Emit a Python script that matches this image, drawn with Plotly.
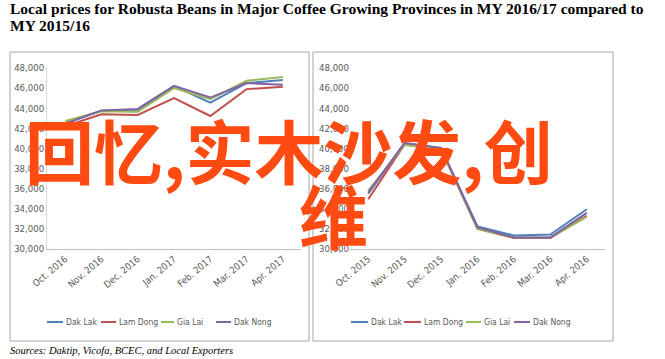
import plotly.graph_objects as go

months_1617 = ["Oct. 2016", "Nov. 2016", "Dec. 2016", "Jan. 2017", "Feb. 2017", "Mar. 2017", "Apr. 2017"]
months_1516 = ["Oct. 2015", "Nov. 2015", "Dec. 2015", "Jan. 2016", "Feb. 2016", "Mar. 2016", "Apr. 2016"]

provinces = ["Dak Lak", "Lam Dong", "Gia Lai", "Dak Nong"]
colors = ["#4F81BD", "#C0504D", "#9BBB59", "#8064A2"]

dak_lak_1617 = [42500, 43750, 43700, 46200, 44550, 46500, 46800]
lam_dong_1617 = [42200, 43400, 43330, 45000, 43230, 45900, 46130]
gia_lai_1617 = [42730, 43700, 43650, 46000, 44900, 46730, 47100]
dak_nong_1617 = [42450, 43780, 43930, 46230, 45060, 46500, 46330]

dak_lak_1516 = [35500, 40500, 40000, 32250, 31350, 31430, 33950]
lam_dong_1516 = [34950, 40400, 39900, 32000, 31100, 31100, 33300]
gia_lai_1516 = [35800, 40350, 39950, 32000, 31150, 31150, 33200]
dak_nong_1516 = [35600, 40550, 40050, 32150, 31150, 31150, 33600]

y_ticks = list(range(30000, 48001, 2000))
y_tick_labels = [f"{v:,}" for v in y_ticks]

series_1617 = [dak_lak_1617, lam_dong_1617, gia_lai_1617, dak_nong_1617]
series_1516 = [dak_lak_1516, lam_dong_1516, gia_lai_1516, dak_nong_1516]

W, H = 665, 359
def px(x):
    return x / W
def py(y):
    return 1 - y / H

fig = go.Figure()
for name, col, vals in zip(provinces, colors, series_1617):
    fig.add_trace(go.Scatter(x=months_1617, y=vals, name=name, mode="lines",
                             line=dict(color=col, width=2), xaxis="x", yaxis="y",
                             showlegend=False))
for name, col, vals in zip(provinces, colors, series_1516):
    fig.add_trace(go.Scatter(x=months_1516, y=vals, name=name, mode="lines",
                             line=dict(color=col, width=2), xaxis="x2", yaxis="y2",
                             showlegend=False))

narrow = "Liberation Sans Narrow, Arial Narrow, DejaVu Sans Condensed, sans-serif"
tick_font = dict(family=narrow, size=9.5, color="#595959")

common_x = dict(tickangle=-40, tickfont=tick_font, showgrid=False, zeroline=False,
                showline=True, linecolor="#BFBFBF", linewidth=1, ticks="",
                range=[-0.5, 6.5], fixedrange=True, automargin=False)
common_y = dict(range=[30000, 48000], tickvals=y_ticks, ticktext=y_tick_labels,
                tickfont=tick_font, showgrid=False, zeroline=False, ticks="",
                domain=[py(249), py(68)], fixedrange=True, automargin=False)

fig.update_layout(
    width=W, height=H, margin=dict(l=0, r=0, t=0, b=0, autoexpand=False),
    paper_bgcolor="white", plot_bgcolor="white",
    xaxis=dict(domain=[px(47), px(301)], anchor="y", **common_x),
    yaxis=dict(anchor="x", showline=True, linecolor="#D9D9D9", linewidth=1, **common_y),
    xaxis2=dict(domain=[px(350), px(605)], anchor="y2", **common_x),
    yaxis2=dict(anchor="x2", showline=False, **common_y),
    showlegend=False,
)

# panel frames
for x0, x1 in [(10, 309), (313, 613)]:
    fig.add_shape(type="rect", xref="paper", yref="paper",
                  x0=px(x0), x1=px(x1), y0=py(341), y1=py(52),
                  line=dict(color="#A6A6A6", width=1), fillcolor="rgba(0,0,0,0)", layer="below")

# legends (drawn manually for compact Excel-like spacing)
legend_y = 322
legend_left = [(47, 63), (101, 116), (161, 174), (216, 231)]
legend_right = [(351, 368), (404, 421), (466, 481), (514, 530)]
for layout_pos in (legend_left, legend_right):
    for (x0, x1), name, col in zip(layout_pos, provinces, colors):
        fig.add_shape(type="line", xref="paper", yref="paper",
                      x0=px(x0), x1=px(x1), y0=py(legend_y), y1=py(legend_y),
                      line=dict(color=col, width=2))
        fig.add_annotation(text=name, xref="paper", yref="paper", x=px(x1 + 1), y=py(legend_y),
                           xanchor="left", yanchor="middle", showarrow=False,
                           font=dict(family=narrow, size=8.5, color="#595959"))

title_font = dict(family="Liberation Serif, Times New Roman, serif", size=15.5, color="black")
fig.add_annotation(text="<b>Local prices for Robusta Beans in Major Coffee Growing Provinces in MY 2016/17 compared to</b>",
                   xref="paper", yref="paper", x=px(8), y=py(9), xanchor="left", yanchor="middle",
                   showarrow=False, font=title_font)
fig.add_annotation(text="<b>MY 2015/16</b>",
                   xref="paper", yref="paper", x=px(8), y=py(25), xanchor="left", yanchor="middle",
                   showarrow=False, font=title_font)
fig.add_annotation(text="<i>Sources: Daktip, Vicofa, BCEC, and Local Exporters</i>",
                   xref="paper", yref="paper", x=px(8), y=py(350), xanchor="left", yanchor="middle",
                   showarrow=False, font=dict(family="Liberation Serif, Times New Roman, serif", size=10.5, color="black"))

wm_font = dict(family="Noto Sans CJK SC, sans-serif", size=69, color="#FF4B12", weight=700)
fig.add_annotation(text="回忆,实木沙发,创", xref="paper", yref="paper", x=px(289), y=py(149),
                   xanchor="center", yanchor="middle", showarrow=False, font=wm_font)
fig.add_annotation(text="维", xref="paper", yref="paper", x=px(333), y=py(214),
                   xanchor="center", yanchor="middle", showarrow=False, font=wm_font)

fig.write_html("out.html", config={"displayModeBar": False},
               post_script="document.body.style.margin='0';document.body.style.padding='0';")
